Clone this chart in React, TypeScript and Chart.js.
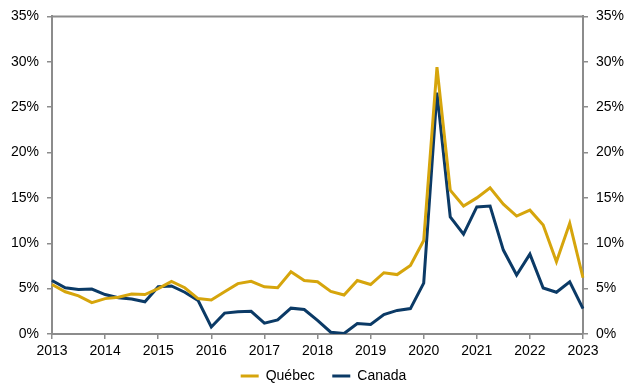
import React, { useEffect, useRef } from "react";
import { Chart, registerables } from "chart.js";

Chart.register(...registerables);

const quarters: string[] = [];
for (let y = 2013; y <= 2023; y++) {
  for (let q = 1; q <= 4; q++) {
    if (y === 2023 && q > 1) break;
    quarters.push(`${y}T${q}`);
  }
}

const quebec = [
  5.45, 4.65, 4.2, 3.45, 3.9, 4.05, 4.4, 4.35,
  5.0, 5.8, 5.1, 3.9, 3.75, 4.65, 5.55, 5.8,
  5.2, 5.1, 6.85, 5.9, 5.75, 4.7, 4.3, 5.9,
  5.45, 6.75, 6.55, 7.55, 10.3, 29.4, 15.85, 14.1,
  15.0, 16.1, 14.3, 13.0, 13.65, 12.0, 7.95, 12.2,
  6.2,
];

const canada = [
  5.9, 5.1, 4.9, 4.95, 4.35, 4.0, 3.85, 3.55,
  5.2, 5.3, 4.6, 3.7, 0.77, 2.3, 2.45, 2.5,
  1.2, 1.55, 2.85, 2.7, 1.5, 0.2, 0.05, 1.15,
  1.05, 2.15, 2.6, 2.8, 5.6, 26.6, 12.9, 11.0,
  14.0, 14.1, 9.25, 6.5, 8.8, 5.07, 4.6, 5.75,
  2.8,
];

const yTicks = [0, 5, 10, 15, 20, 25, 30, 35];

const QC_COLOR = "#D6A50C";
const CA_COLOR = "#0B3A66";
const AXIS_COLOR = "#8C8C8C";
const FONT = "'Liberation Sans', Arial, sans-serif";

export default function App() {
  const ref = useRef<HTMLCanvasElement | null>(null);

  useEffect(() => {
    document.body.style.margin = "0";
    const canvas = ref.current!;
    const topBorder = {
      id: "topBorder",
      afterLayout(chart: any) {
        if (chart.legend) {
          chart.legend.left = 22;
          chart.legend.right = 625;
        }
      },
      afterDraw(chart: any) {
        const { ctx, chartArea } = chart;
        ctx.save();
        ctx.strokeStyle = AXIS_COLOR;
        ctx.lineWidth = 2;
        ctx.beginPath();
        ctx.moveTo(chartArea.left, chartArea.top);
        ctx.lineTo(chartArea.right, chartArea.top);
        ctx.stroke();
        ctx.restore();
      },
    };
    const yScaleBase = (position: "left" | "right") => ({
      type: "linear" as const,
      position,
      min: 0,
      max: 35,
      afterBuildTicks(scale: any) {
        scale.ticks = yTicks.map((v) => ({ value: v }));
      },
      afterFit(scale: any) {
        scale.width = position === "left" ? 52 : 42;
      },
      border: { display: true, color: AXIS_COLOR, width: 2 },
      grid: { drawOnChartArea: false, drawTicks: true, tickLength: 5, color: AXIS_COLOR, lineWidth: 1.5 },
      ticks: {
        padding: 8,
        color: "#000",
        font: { family: FONT, size: 14 },
        callback: (v: any) => `${v}%`,
      },
    });

    const chart = new Chart(canvas, {
      type: "line",
      data: {
        labels: quarters,
        datasets: [
          {
            label: "Québec",
            data: quebec,
            borderColor: QC_COLOR,
            backgroundColor: QC_COLOR,
            borderWidth: 3,
            pointRadius: 0,
            tension: 0,
            yAxisID: "y",
          },
          {
            label: "Canada",
            data: canada,
            borderColor: CA_COLOR,
            backgroundColor: CA_COLOR,
            borderWidth: 3,
            pointRadius: 0,
            tension: 0,
            yAxisID: "y",
          },
        ],
      },
      options: {
        responsive: false,
        animation: false,
        layout: { padding: { top: 14, left: 0, right: 0, bottom: -10 } },
        plugins: {
          tooltip: { enabled: false },
          legend: {
            position: "bottom",
            labels: {
              usePointStyle: true,
              pointStyle: "line",
              pointStyleWidth: 18,
              padding: 2,
              color: "#000",
              font: { family: FONT, size: 14 },
              generateLabels(chart: any) {
                const items = Chart.defaults.plugins.legend.labels.generateLabels(chart);
                return items.map((it: any, i: number) => ({
                  ...it,
                  text: i < items.length - 1 ? it.text + "    " : it.text,
                }));
              },
            },
          },
        },
        scales: {
          x: {
            type: "category",
            offset: false,
            border: { display: true, color: AXIS_COLOR, width: 2 },
            grid: {
              drawOnChartArea: false,
              drawTicks: true,
              tickLength: 5,
              color: AXIS_COLOR,
              lineWidth: 1.5,
            },
            afterFit(scale: any) {
              scale.height = 33;
            },
            ticks: {
              autoSkip: false,
              maxRotation: 0,
              padding: 4,
              color: "#000",
              font: { family: FONT, size: 14 },
              callback: (_v: any, i: number) =>
                i % 4 === 0 ? quarters[i].slice(0, 4) : null,
            },
          },
          y: yScaleBase("left") as any,
          y2: { ...(yScaleBase("right") as any) },
        },
      },
      plugins: [topBorder],
    });
    return () => chart.destroy();
  }, []);

  return <canvas ref={ref} width={625} height={383} style={{ display: "block" }} />;
}
